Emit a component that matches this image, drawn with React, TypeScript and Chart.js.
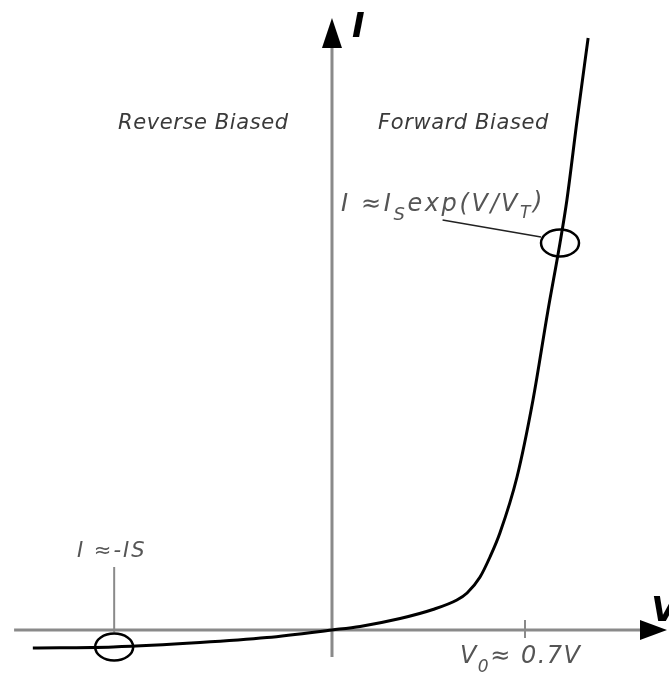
import React, { useEffect, useRef } from "react";
import { Chart, registerables } from "chart.js";

Chart.register(...registerables);

// Diode I-V characteristic (V in volts, I in arbitrary mA units)
const voltage = [-1.085, -0.794, -0.479, -0.236, 0, 0.102, 0.247, 0.366, 0.453, 0.49, 0.537, 0.573, 0.609, 0.671, 0.729, 0.783, 0.827, 0.852, 0.889, 0.929];
const current = [-0.9, -0.85, -0.63, -0.38, 0, 0.18, 0.575, 1.025, 1.5, 1.85, 2.65, 3.65, 4.85, 7.65, 11.5, 15.95, 19.35, 21.5, 25.5, 29.6];

// Highlighted operating points (circled)
const circledV = [-0.79, 0.827];
const circledI = [-0.85, 19.35];

// Axis ranges
const vRange = [-1.2041, 1.2223];
const iRange = [-2.15, 31.5];
const kneeVoltage = 0.7;

const regionLabels = ["Reverse Biased", "Forward Biased"];

const W = 669;
const H = 673;

export default function App() {
  const ref = useRef<HTMLCanvasElement | null>(null);

  useEffect(() => {
    const canvas = ref.current;
    if (!canvas) return;

    const deco = {
      id: "deco",
      beforeDatasetsDraw(chart: any) {
        const ctx = chart.ctx;
        const xs = chart.scales.x;
        const ys = chart.scales.y;
        const X = (v: number) => xs.getPixelForValue(v);
        const Y = (v: number) => ys.getPixelForValue(v);
        const ox = X(0);
        const oy = Y(0);
        ctx.save();
        ctx.strokeStyle = "#8a8a8a";
        ctx.lineWidth = 3;
        // horizontal axis
        ctx.beginPath();
        ctx.moveTo(X(-1.153), oy);
        ctx.lineTo(X(1.12), oy);
        ctx.stroke();
        // vertical axis
        ctx.beginPath();
        ctx.moveTo(ox, Y(-1.35));
        ctx.lineTo(ox, Y(29.5));
        ctx.stroke();
        // tick at knee voltage
        ctx.lineWidth = 2;
        ctx.beginPath();
        ctx.moveTo(X(kneeVoltage), oy - 10);
        ctx.lineTo(X(kneeVoltage), oy + 8);
        ctx.stroke();
        // leader line for reverse point
        ctx.beginPath();
        ctx.moveTo(X(circledV[0]), Y(3.15));
        ctx.lineTo(X(circledV[0]), oy + 2);
        ctx.stroke();
        // arrow heads
        ctx.fillStyle = "#000";
        const tipY = Y(30.6);
        ctx.beginPath();
        ctx.moveTo(ox, tipY);
        ctx.lineTo(ox - 10, tipY + 30);
        ctx.lineTo(ox + 10, tipY + 30);
        ctx.closePath();
        ctx.fill();
        const tipX = X(1.215);
        ctx.beginPath();
        ctx.moveTo(tipX, oy);
        ctx.lineTo(tipX - 27, oy - 10);
        ctx.lineTo(tipX - 27, oy + 10);
        ctx.closePath();
        ctx.fill();
        ctx.restore();
      },
      afterDatasetsDraw(chart: any) {
        const ctx = chart.ctx;
        const xs = chart.scales.x;
        const ys = chart.scales.y;
        const X = (v: number) => xs.getPixelForValue(v);
        const Y = (v: number) => ys.getPixelForValue(v);
        ctx.save();
        // leader line for forward point
        ctx.strokeStyle = "#222";
        ctx.lineWidth = 1.5;
        ctx.beginPath();
        ctx.moveTo(X(0.401), Y(20.5));
        ctx.lineTo(X(circledV[1]) - 19, Y(circledI[1]) - 6);
        ctx.stroke();
        // circles
        ctx.strokeStyle = "#000";
        ctx.lineWidth = 2.5;
        for (let k = 0; k < circledV.length; k++) {
          ctx.beginPath();
          ctx.ellipse(X(circledV[k]), Y(circledI[k]), 19, 13.5, 0, 0, Math.PI * 2);
          ctx.stroke();
        }

        const ital = (size: number, bold = false) =>
          `italic ${bold ? "bold " : ""}${size}px "DejaVu Sans"`;
        const seg = (parts: [string, number, number][], x0: number, y0: number, spacing: string) => {
          let x = x0;
          (ctx as any).letterSpacing = spacing;
          for (const [t, size, dy] of parts) {
            ctx.font = ital(size);
            ctx.fillText(t, x, y0 + dy);
            x += ctx.measureText(t).width;
          }
          (ctx as any).letterSpacing = "0px";
        };

        ctx.textBaseline = "alphabetic";
        ctx.textAlign = "left";
        // region labels
        ctx.fillStyle = "#3a3a3a";
        (ctx as any).letterSpacing = "0.6px";
        ctx.font = ital(21);
        ctx.fillText(regionLabels[0], X(-0.776), Y(25.05));
        ctx.fillText(regionLabels[1], X(0.167), Y(25.05));

        // formulas
        ctx.fillStyle = "#555";
        seg(
          [
            ["I ≈I", 24, 0],
            ["S", 18, 9],
            ["exp(V/V", 24, 0],
            ["T", 17, 7],
            [")", 24, -2],
          ],
          X(0.033),
          Y(20.95),
          "2.6px"
        );
        seg([["I ≈-IS", 21, 0]], X(-0.925), Y(3.65), "2px");
        seg(
          [
            ["V", 24, 0],
            ["0", 17, 9],
            ["≈ 0.7V", 24, 0],
          ],
          X(0.464),
          Y(-1.65),
          "1.5px"
        );

        // axis titles
        ctx.fillStyle = "#000";
        ctx.font = ital(34, true);
        ctx.fillText("I", X(0.0725), Y(29.65));
        ctx.fillText("V", X(1.158), Y(0.45));
        ctx.restore();
      },
    };

    const chart = new Chart(canvas, {
      type: "line",
      data: {
        datasets: [
          {
            data: voltage.map((v, k) => ({ x: v, y: current[k] })),
            borderColor: "#000",
            borderWidth: 3,
            pointRadius: 0,
            cubicInterpolationMode: "monotone",
            fill: false,
          },
        ],
      },
      options: {
        animation: false,
        responsive: false,
        devicePixelRatio: 1,
        layout: { padding: 0 },
        plugins: { legend: { display: false }, tooltip: { enabled: false } },
        scales: {
          x: { type: "linear", min: vRange[0], max: vRange[1], display: false },
          y: { type: "linear", min: iRange[0], max: iRange[1], display: false },
        },
      },
      plugins: [deco],
    } as any);

    return () => chart.destroy();
  }, []);

  return (
    <div style={{ position: "absolute", left: 0, top: 0, width: W, height: H, background: "#fff" }}>
      <canvas ref={ref} width={W} height={H} style={{ display: "block" }} />
    </div>
  );
}
